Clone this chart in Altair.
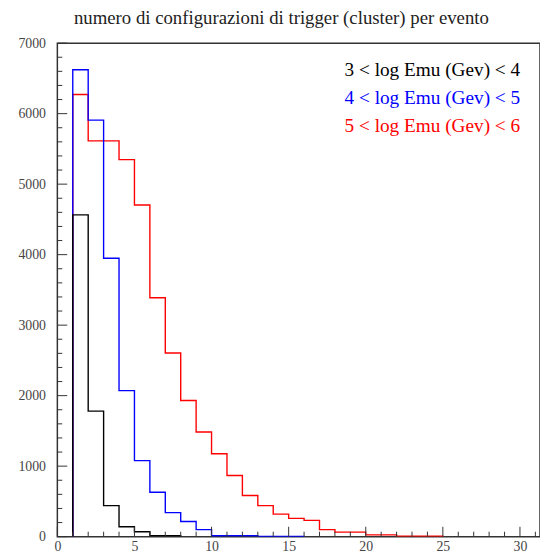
import altair as alt
import pandas as pd

# ---- data ----
first_bin = 1
black_vals = [4564, 1780, 440, 140, 70, 15, 15]
blue_vals = [6622, 5908, 3948, 2072, 1078, 630, 340, 215, 100, 12, 12, 12, 4, 4, 4]
red_vals = [6272, 5614, 5614, 5348, 4704, 3388, 2604, 1932, 1484, 1176, 868, 583,
            440, 320, 260, 230, 100, 65, 65, 25, 25, 8, 8, 8]

series_names = ["3 < log Emu (Gev) < 4", "4 < log Emu (Gev) < 5", "5 < log Emu (Gev) < 6"]
series_colors = ["#000000", "#0000ff", "#ff0000"]
series_vals = [black_vals, blue_vals, red_vals]

x_major = [0, 5, 10, 15, 20, 25, 30]
x_minor = [i for i in range(0, 32) if i % 5 != 0]
y_major = [0, 1000, 2000, 3000, 4000, 5000, 6000, 7000]
y_minor = [v for v in range(0, 7001, 200) if v % 1000 != 0]

title_text = "numero di configurazioni di trigger (cluster) per evento"

FONT = "Liberation Serif"
W, H = 489, 500
X_DOMAIN = [0, 31.3]
Y_DOMAIN = [0, 7000]

xs = alt.Scale(domain=X_DOMAIN, nice=False, zero=False)
ys = alt.Scale(domain=Y_DOMAIN, nice=False)

x_axis = alt.Axis(values=x_major, format="d", ticks=False, tickSize=0, domain=False, grid=False,
                  title=None, labelFont=FONT, labelFontSize=14, labelColor="#444",
                  labelPadding=3, labelFlush=False)
y_axis = alt.Axis(values=y_major, format="d", ticks=False, tickSize=0, domain=False, grid=False,
                  title=None, labelFont=FONT, labelFontSize=14, labelColor="#444",
                  labelPadding=12, labelFlush=False)


def hist_layer(vals, color):
    rows = [{"x": first_bin, "y": 0, "o": 0}]
    for i, v in enumerate(vals):
        rows.append({"x": first_bin + i, "y": v, "o": i + 1})
    rows.append({"x": first_bin + len(vals), "y": 0, "o": len(vals) + 1})
    return alt.Chart(pd.DataFrame(rows)).mark_line(
        interpolate="step-after", strokeWidth=1.4, color=color, clip=True
    ).encode(
        x=alt.X("x:Q", scale=xs, axis=x_axis),
        y=alt.Y("y:Q", scale=ys, axis=y_axis),
        order="o:Q",
    )


def yticks(vals, length):
    return alt.Chart(pd.DataFrame({"v": vals})).mark_rule(color="#333", strokeWidth=1).encode(
        y=alt.Y("v:Q", scale=ys), x=alt.value(0), x2=alt.value(length))


def xticks(vals, length):
    return alt.Chart(pd.DataFrame({"v": vals})).mark_rule(color="#333", strokeWidth=1).encode(
        x=alt.X("v:Q", scale=xs), y=alt.value(H), y2=alt.value(H - length))


# draw red first, then blue, then black on top (as in the reference)
hist_layers = [hist_layer(series_vals[k], series_colors[k]) for k in (2, 1, 0)]

legend_layers = []
for i, (name, col) in enumerate(zip(series_names, series_colors)):
    legend_layers.append(
        alt.Chart(pd.DataFrame({"t": [name]})).mark_text(
            font=FONT, fontSize=19.5, align="left", baseline="middle", color=col
        ).encode(text="t:N", x=alt.value(291), y=alt.value(27 + 28.5 * i))
    )

title_layer = alt.Chart(pd.DataFrame({"t": [title_text]})).mark_text(
    font=FONT, fontSize=19, align="center", baseline="alphabetic", color="#222"
).encode(text="t:N", x=alt.value(227), y=alt.value(-19))

chart = alt.layer(
    *hist_layers,
    yticks(y_major, 10), yticks(y_minor, 5), xticks(x_major, 10), xticks(x_minor, 5),
    *legend_layers, title_layer,
).properties(
    width=W, height=H,
    autosize=alt.AutoSizeParams(type="none"),
    padding={"left": 50, "top": 32, "right": 0, "bottom": 16},
    background="white",
).configure_view(stroke="#333", strokeWidth=1.5)

chart.save("out.html", embed_options={"renderer": "svg", "actions": False})
